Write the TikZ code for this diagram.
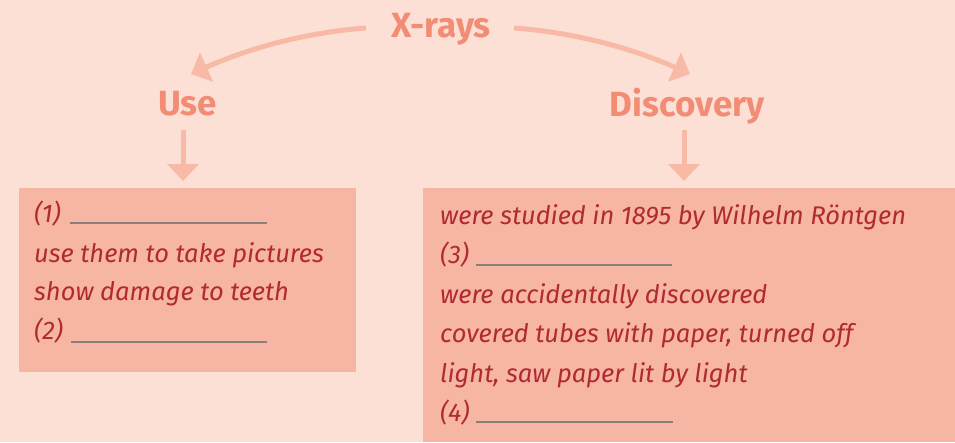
\documentclass[tikz,border=0pt]{standalone}
\usepackage{fontspec}
\setmainfont{Fira Sans}
\usetikzlibrary{arrows.meta}
\definecolor{bgc}{HTML}{FCE0D6}
\definecolor{boxc}{HTML}{F7B5A3}
\definecolor{headc}{HTML}{F28C75}
\definecolor{arrc}{HTML}{F8B9A6}
\definecolor{txtc}{HTML}{B02A30}
\definecolor{blankc}{HTML}{8A7E7C}
\tikzset{
  head/.style={font=\fontsize{35}{38}\selectfont\bfseries, text=headc, inner sep=0pt, anchor=base},
  body/.style={font=\fontsize{25.5}{28}\selectfont\itshape, text=txtc, inner sep=0pt, anchor=base west},
  conn/.style={draw=arrc, line width=5pt, -{Triangle[length=17pt,width=31pt]}},
  blank/.style={draw=blankc, line width=1.4pt},
  panel/.style={fill=boxc, draw=none}
}
\begin{document}
\begin{tikzpicture}[x=1pt,y=-1pt]
\fill[bgc] (0,0) rectangle (955,442);
\useasboundingbox (0,0) rectangle (955,442);
% boxes
\path[panel] (19,188) rectangle (356,372);
\path[panel] (423,188) rectangle (955,442);
% headings
\node[head] (xr) at (441,37) {X-rays};
\node[head] (use) at (187.5,115) {Use};
\node[head] (disc) at (687,116) {Discovery};
% connectors
\coordinate (l1) at (366,28);
\coordinate (l2) at (191,74);
\coordinate (r1) at (514,28);
\coordinate (r2) at (690,74);
\draw[conn] (l1) .. controls (300,33) and (245,50) .. (l2);
\draw[conn] (r1) .. controls (580,33) and (636,50) .. (r2);
\coordinate (u1) at (183,130);
\coordinate (u2) at (183,181);
\coordinate (d1) at (684,130);
\coordinate (d2) at (684,181);
\draw[conn] (u1) -- (u2);
\draw[conn] (d1) -- (d2);
% left text
\node[body] (a1) at (34,222) {(1)};
\node[body] (a2) at (34,262) {use them to take pictures};
\node[body] (a3) at (34,300) {show damage to teeth};
\node[body] (a4) at (34,339) {(2)};
\draw[blank] (70,223) -- (267,223);
\draw[blank] (71,342) -- (267,342);
% right text
\node[body] (b1) at (440,224) {were studied in 1895 by Wilhelm Röntgen};
\node[body] (b2) at (440,263.5) {(3)};
\node[body] (b3) at (440,303) {were accidentally discovered};
\node[body] (b4) at (440,342.5) {covered tubes with paper, turned off};
\node[body] (b5) at (440,382) {light, saw paper lit by light};
\node[body] (b6) at (440,421.5) {(4)};
\draw[blank] (476,265) -- (672,265);
\draw[blank] (476,422) -- (673,422);
\end{tikzpicture}
\end{document}
